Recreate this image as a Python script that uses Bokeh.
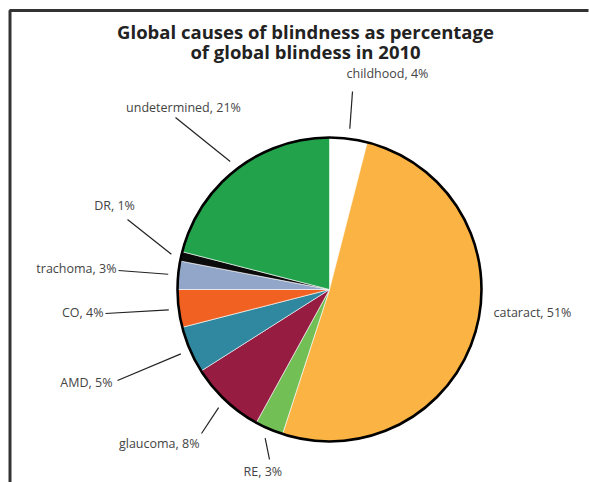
import math
from bokeh.plotting import figure
from bokeh.models import Range1d, ColumnDataSource
from bokeh.core.properties import value
from bokeh.embed import file_html
from bokeh.resources import INLINE

# ---- data ----
causes = ["childhood", "cataract", "RE", "glaucoma", "AMD", "CO", "trachoma", "DR", "undetermined"]
percent = [4, 51, 3, 8, 5, 4, 3, 1, 21]
colors = ["#ffffff", "#fbb443", "#72bf56", "#961c42", "#2f88a0", "#f16122", "#91a6c8", "#0b0b0b", "#22a24b"]
title_lines = ["Global causes of blindness as percentage", "of global blindess in 2010"]

# ---- layout (page pixel coordinates) ----
W, H = 589, 482
OFF = 0
def X(px):
    return px - OFF
def Y(py):
    return H - (py - OFF)

CX, CY, R = X(329), Y(289), 152
R_IN = 162
label_anchor = {
    "childhood": (346, 73, "left"),
    "cataract": (493, 312, "left"),
    "RE": (243, 471, "left"),
    "glaucoma": (199, 443, "right"),
    "AMD": (112, 382, "right"),
    "CO": (103, 312, "right"),
    "trachoma": (116, 268, "right"),
    "DR": (114, 205, "center"),
    "undetermined": (183, 107, "center"),
}
leader_end = {
    "childhood": (352, 91),
    "RE": (269, 459),
    "glaucoma": (201, 433),
    "AMD": (117, 380),
    "CO": (105, 313),
    "trachoma": (118, 270),
    "DR": (127, 219),
    "undetermined": (175, 117),
}

p = figure(width=W, height=H, output_backend="svg", toolbar_location=None,
           x_range=Range1d(0, W), y_range=Range1d(0, H), min_border=0,
           outline_line_color=None, background_fill_color="white")
p.axis.visible = False
p.grid.visible = False

total = sum(percent)
starts, ends, mids = [], [], []
cum = 0
for v in percent:
    a0 = math.pi / 2 - 2 * math.pi * cum / total
    cum += v
    a1 = math.pi / 2 - 2 * math.pi * cum / total
    starts.append(a0)
    ends.append(a1)
    mids.append((a0 + a1) / 2)

src = ColumnDataSource(dict(cause=causes, pct=percent, color=colors, start=starts, end=ends))
p.wedge(x=CX, y=CY, radius=R, start_angle="start", end_angle="end", direction="clock",
        fill_color="color", line_color="white", line_width=0.6, source=src)
p.circle(x=[CX], y=[CY], radius=R, fill_color=None, line_color="#000000", line_width=2.6)

x0, y0, x1, y1 = [], [], [], []
for c, m in zip(causes, mids):
    if c in leader_end:
        x0.append(CX + R_IN * math.cos(m))
        y0.append(CY + R_IN * math.sin(m))
        ex, ey = leader_end[c]
        x1.append(X(ex))
        y1.append(Y(ey))
p.segment(x0=x0, y0=y0, x1=x1, y1=y1, line_color="#222222", line_width=1.2)

for align in ("left", "right", "center"):
    xs, ys, ts = [], [], []
    for c, v in zip(causes, percent):
        ax, ay, al = label_anchor[c]
        if al == align:
            xs.append(X(ax))
            ys.append(Y(ay))
            ts.append(f"{c}, {v}%")
    if xs:
        p.text(x=xs, y=ys, text=ts, text_font=value("Open Sans"), text_font_size="12.5px",
               text_color="#444444", text_align=align, text_baseline="middle")

p.text(x=[X(305), X(305)], y=[Y(31), Y(51)], text=title_lines, text_font=value("Open Sans"),
       text_font_size="18.5px", text_font_style="bold", text_color="#222222",
       text_align="center", text_baseline="middle")

# frame (top and left rules)
p.line(x=[X(9.5), X(9.5), X(588)], y=[0, Y(10), Y(10)], line_color="#333333", line_width=3)

open("out.html", "w").write(file_html(p, INLINE))
